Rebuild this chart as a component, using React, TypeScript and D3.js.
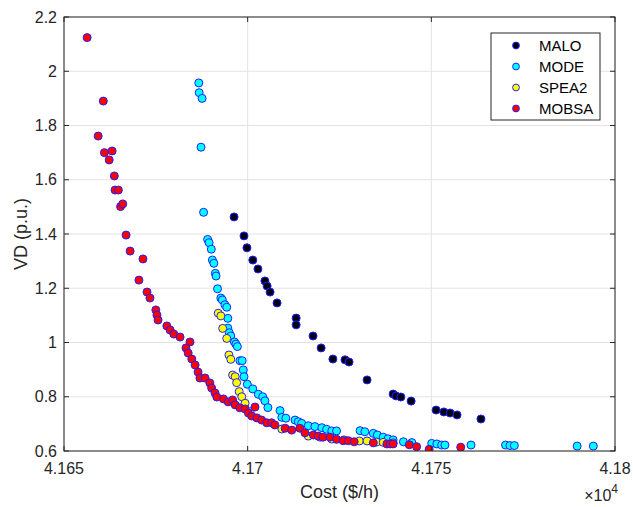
import React from "react";
import * as d3 from "d3";

const xTicks = [41650, 41700, 41750, 41800];
const yTicks = [0.6, 0.8, 1.0, 1.2, 1.4, 1.6, 1.8, 2.0, 2.2];

const seriesNames = ["MALO", "MODE", "SPEA2", "MOBSA"];
const seriesFills = ["#000014", "#00ffff", "#ffff00", "#ff0000"];

const maloData: [number, number][] = [
  [41696.3, 1.463], [41699.0, 1.393], [41699.8, 1.349], [41701.4, 1.304], [41702.8, 1.271],
  [41704.7, 1.227], [41705.3, 1.208], [41706.1, 1.186], [41708.0, 1.146], [41713.2, 1.090],
  [41713.2, 1.065], [41717.8, 1.024], [41720.0, 0.980], [41723.2, 0.939], [41726.5, 0.936],
  [41727.6, 0.928], [41732.5, 0.862], [41739.6, 0.810], [41740.4, 0.803], [41741.7, 0.799],
  [41744.5, 0.784], [41751.3, 0.751], [41753.4, 0.744], [41755.1, 0.740], [41757.0, 0.733],
  [41763.5, 0.718],
];

const modeData: [number, number][] = [
  [41686.7, 1.957], [41686.8, 1.921], [41687.6, 1.900], [41687.3, 1.720], [41688.0, 1.480],
  [41689.1, 1.380], [41689.5, 1.368], [41690.1, 1.344], [41690.4, 1.304], [41690.8, 1.292],
  [41691.2, 1.255], [41691.4, 1.245], [41691.8, 1.198], [41692.7, 1.164], [41693.1, 1.157],
  [41693.8, 1.139], [41694.3, 1.130], [41694.6, 1.089], [41694.6, 1.053], [41695.0, 1.036],
  [41695.4, 1.024], [41696.4, 1.002], [41696.8, 0.994], [41697.2, 0.985], [41697.9, 0.933],
  [41698.5, 0.933], [41698.8, 0.899], [41699.0, 0.874], [41699.9, 0.846], [41701.4, 0.829],
  [41702.9, 0.809], [41704.1, 0.800], [41704.7, 0.785], [41705.5, 0.760], [41708.8, 0.749],
  [41709.3, 0.724], [41710.4, 0.721], [41712.9, 0.714], [41713.8, 0.708], [41714.7, 0.702],
  [41716.5, 0.693], [41718.3, 0.690], [41720.2, 0.686], [41721.5, 0.680], [41722.9, 0.674],
  [41724.2, 0.674], [41730.6, 0.675], [41731.9, 0.671], [41734.2, 0.665], [41735.3, 0.659],
  [41736.9, 0.651], [41738.2, 0.645], [41739.6, 0.641], [41742.4, 0.634], [41744.7, 0.631],
  [41750.1, 0.628], [41751.5, 0.626], [41752.8, 0.622], [41753.7, 0.622], [41760.8, 0.622],
  [41770.2, 0.622], [41771.4, 0.620], [41772.6, 0.620], [41789.7, 0.618], [41794.1, 0.618],
];

const spea2Data: [number, number][] = [
  [41692.0, 1.108], [41692.7, 1.098], [41693.2, 1.052], [41694.3, 1.015], [41694.9, 0.954],
  [41695.4, 0.938], [41695.9, 0.880], [41696.6, 0.874], [41697.0, 0.852], [41697.7, 0.819],
  [41698.4, 0.800], [41699.3, 0.776], [41700.6, 0.745], [41709.3, 0.681], [41716.5, 0.655],
  [41719.7, 0.651], [41722.9, 0.644], [41726.2, 0.641], [41730.4, 0.637], [41732.5, 0.637],
  [41735.1, 0.633], [41736.9, 0.632], [41739.6, 0.630],
];

const mobsaData: [number, number][] = [
  [41656.3, 2.124], [41660.7, 1.890], [41659.3, 1.761], [41661.0, 1.700], [41663.1, 1.706],
  [41662.3, 1.673], [41663.7, 1.614], [41663.9, 1.562], [41664.8, 1.562], [41665.4, 1.501],
  [41666.0, 1.511], [41666.9, 1.396], [41668.0, 1.337], [41671.5, 1.308], [41670.4, 1.230],
  [41672.6, 1.186], [41673.4, 1.164], [41675.0, 1.120], [41675.3, 1.101], [41675.6, 1.083],
  [41678.0, 1.061], [41678.9, 1.046], [41679.9, 1.031], [41681.6, 1.020], [41684.3, 1.002],
  [41683.2, 0.980], [41683.8, 0.961], [41684.8, 0.939], [41685.7, 0.917], [41686.5, 0.891],
  [41687.0, 0.869], [41688.4, 0.869], [41689.7, 0.851], [41690.2, 0.832], [41691.1, 0.814],
  [41691.6, 0.799], [41693.4, 0.792], [41694.7, 0.781], [41695.9, 0.788], [41696.6, 0.770],
  [41697.9, 0.759], [41699.3, 0.755], [41700.2, 0.740], [41702.0, 0.762], [41701.1, 0.729],
  [41702.5, 0.722], [41703.8, 0.714], [41705.2, 0.704], [41706.5, 0.704], [41707.4, 0.696],
  [41710.2, 0.684], [41712.0, 0.677], [41714.2, 0.684], [41715.6, 0.667], [41717.9, 0.659],
  [41719.2, 0.655], [41720.5, 0.651], [41722.4, 0.651], [41724.2, 0.643], [41726.0, 0.638],
  [41727.4, 0.638], [41729.0, 0.634], [41734.2, 0.630], [41737.9, 0.626], [41738.8, 0.626],
  [41739.6, 0.626], [41744.0, 0.623], [41746.0, 0.616], [41749.4, 0.606], [41758.0, 0.614],
];

const allSeries = [maloData, modeData, spea2Data, mobsaData];

const W = 633;
const H = 507;
const M = { left: 64, right: 615, top: 17, bottom: 451 };
const FONT = "'Liberation Sans', Arial, Helvetica, sans-serif";
const AX = "#262626";
const EDGE = "#1f1fff";

export default function App() {
  const x = d3.scaleLinear().domain([41650, 41800]).range([M.left, M.right]);
  const y = d3.scaleLinear().domain([0.6, 2.2]).range([M.bottom, M.top]);
  const fmtX = (d: number) => d3.format("~g")(d / 1e4);
  const fmtY = (d: number) => String(+d.toFixed(1));
  const tl = 5;

  const legX = 491, legY = 33, legW = 109, legH = 87;

  return (
    <svg width={W} height={H} style={{ position: "absolute", left: 0, top: 0, background: "#fff" }} fontFamily={FONT}>
      <rect x={0} y={0} width={W} height={H} fill="#fff" />
      <defs>
        <clipPath id="plotClip">
          <rect x={M.left} y={M.top} width={M.right - M.left} height={M.bottom - M.top} />
        </clipPath>
      </defs>
      {xTicks.map((t) => (
        <line key={"gx" + t} x1={x(t)} x2={x(t)} y1={M.top} y2={M.bottom} stroke="#e3e3e3" strokeWidth={1} />
      ))}
      {yTicks.map((t) => (
        <line key={"gy" + t} x1={M.left} x2={M.right} y1={y(t)} y2={y(t)} stroke="#e3e3e3" strokeWidth={1} />
      ))}
      <g clipPath="url(#plotClip)">
        {allSeries.map((s, si) =>
          s.map((p, i) => (
            <circle key={si + "-" + i} cx={x(p[0])} cy={y(p[1])} r={4} fill={seriesFills[si]} stroke={EDGE} strokeWidth={1} />
          ))
        )}
      </g>
      <rect x={M.left} y={M.top} width={M.right - M.left} height={M.bottom - M.top} fill="none" stroke={AX} strokeWidth={1} />
      {xTicks.map((t) => (
        <g key={"tx" + t}>
          <line x1={x(t)} x2={x(t)} y1={M.bottom} y2={M.bottom - tl} stroke={AX} />
          <line x1={x(t)} x2={x(t)} y1={M.top} y2={M.top + tl} stroke={AX} />
          <text x={x(t)} y={M.bottom + 23} textAnchor="middle" fontSize={16} fill={AX}>{fmtX(t)}</text>
        </g>
      ))}
      {yTicks.map((t) => (
        <g key={"ty" + t}>
          <line x1={M.left} x2={M.left + tl} y1={y(t)} y2={y(t)} stroke={AX} />
          <line x1={M.right} x2={M.right - tl} y1={y(t)} y2={y(t)} stroke={AX} />
          <text x={M.left - 7} y={y(t) + 5.5} textAnchor="end" fontSize={16} fill={AX}>{fmtY(t)}</text>
        </g>
      ))}
      <text x={(M.left + M.right) / 2} y={498} textAnchor="middle" fontSize={18} fill={AX}>Cost ($/h)</text>
      <text transform={`translate(27,${(M.top + M.bottom) / 2}) rotate(-90)`} textAnchor="middle" fontSize={18} fill={AX}>VD (p.u.)</text>
      <text x={618} y={501} textAnchor="end" fontSize={16} fill={AX}>×10<tspan dy={-8} fontSize={12}>4</tspan></text>
      <rect x={legX} y={legY} width={legW} height={legH} fill="#fff" stroke={AX} strokeWidth={1} />
      {seriesNames.map((n, i) => (
        <g key={n}>
          <circle cx={516} cy={legY + 12.5 + i * 21} r={3.4} fill={seriesFills[i]} stroke={EDGE} strokeWidth={1} />
          <text x={539} y={legY + 12.5 + i * 21 + 5.5} fontSize={15} fill="#000">{n}</text>
        </g>
      ))}
    </svg>
  );
}
